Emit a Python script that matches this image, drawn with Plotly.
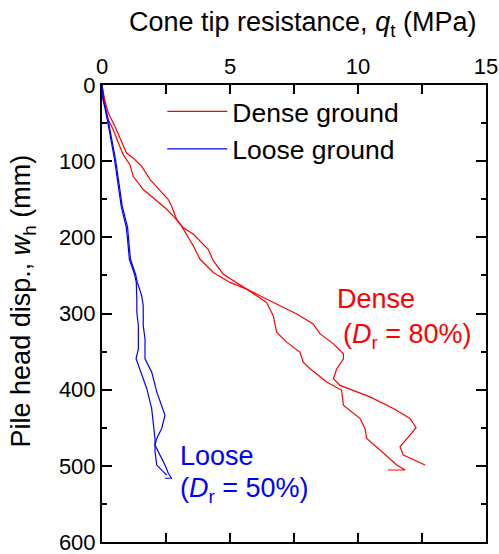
import plotly.graph_objects as go

# Dense ground (Dr = 80%), two tests: qt (MPa) vs pile head displacement wh (mm)
dense_a_qt = [0, 0.05, 0.25, 0.51, 0.70, 0.96, 1.22, 1.55, 1.88, 2.33, 2.59, 2.72, 2.92, 3.16, 3.57, 4.15, 4.35, 4.74, 5.65,
              6.17, 6.95, 7.61, 8.25, 8.52, 9.04, 9.43, 9.43, 9.17, 9.04, 9.30, 10.47, 11.38, 12.03, 12.27, 12.03, 11.64, 11.77, 12.62]
dense_a_wh = [0, 13, 37, 54.5, 69.7, 89.3, 95.8, 106.8, 124.2, 141.6, 150.3, 159.1, 176.5, 187, 196, 215.7, 231, 248.4, 268,
              276.7, 289.8, 300.7, 313.7, 326.8, 339.9, 353, 359.5, 372.5, 385.6, 394.4, 409.5, 424.8, 437.9, 450, 459.7, 474.9, 485.9, 499]
dense_b_qt = [0, 0.08, 0.18, 0.44, 0.64, 0.83, 1.09, 1.22, 1.61, 2.07, 2.46, 2.79, 3.09, 3.57, 3.83, 4.35, 5.00, 5.65,
              6.43, 6.69, 6.82, 7.21, 7.73, 7.86, 8.13, 8.78, 9.36, 9.43, 10.08, 10.27, 10.34, 10.86, 11.51, 11.84, 11.17]
dense_b_wh = [0, 15, 41.4, 58.8, 76.2, 91.5, 104.6, 119.9, 137.3, 150.3, 161.2, 172.2, 184.3, 211.4, 228.8, 246.1, 259.2, 268,
              285.4, 302.9, 324.6, 337.6, 350.7, 363.8, 372.5, 389.9, 400.9, 420.5, 437.9, 451, 464, 479.3, 499, 505.5, 505.5]

# Loose ground (Dr = 50%), two tests
loose_a_qt = [0, 0.05, 0.19, 0.40, 0.53, 0.66, 0.79, 0.92, 1.00, 1.05, 1.11, 1.31, 1.38, 1.55, 1.61, 1.61, 1.68, 1.68,
              1.94, 2.14, 2.39, 2.46, 2.33, 2.14, 2.07, 2.27, 2.46, 2.59, 2.72, 2.46]
loose_a_wh = [0, 19.6, 37, 71.9, 98, 128.5, 159.1, 176.5, 187, 206.9, 228.8, 248.4, 259.2, 276.7, 289.8, 315.9, 333.3, 359.5,
              376.9, 403, 424.8, 433.6, 451, 464, 472.8, 485.9, 499, 509.8, 516.3, 516.3]
loose_b_qt = [0, 0.04, 0.16, 0.36, 0.49, 0.62, 0.75, 0.87, 0.95, 1.01, 1.07, 1.27, 1.34, 1.36, 1.36, 1.42, 1.42, 1.33,
              1.55, 1.75, 1.94, 2.00, 2.07, 2.07, 2.14, 2.39, 2.53]
loose_b_wh = [0, 19.6, 37, 71.9, 98, 128.5, 159.1, 176.5, 187, 206.9, 228.8, 248.4, 259.2, 281, 298.4, 316, 346.4, 359.5,
              381.3, 398.7, 424.8, 446.5, 464, 481.4, 499, 507.6, 512]

x_tickvals = [0, 2.5, 5, 7.5, 10, 12.5, 15]
x_ticktext = ["0", "", "5", "", "10", "", "15"]
y_tickvals = [0, 100, 200, 300, 400, 500, 600]
y_ticktext = ["0", "100", "200", "300", "400", "500", "600"]

RED = "#FF0000"
BLUE = "#0000FF"
FONT = "Liberation Sans, Arial, sans-serif"

fig = go.Figure()
fig.add_trace(go.Scatter(x=dense_a_qt, y=dense_a_wh, mode="lines", line=dict(color=RED, width=1.2),
                         name="Dense ground", legendgroup="d", showlegend=True))
fig.add_trace(go.Scatter(x=dense_b_qt, y=dense_b_wh, mode="lines", line=dict(color=RED, width=1.2),
                         name="Dense ground", legendgroup="d", showlegend=False))
fig.add_trace(go.Scatter(x=loose_a_qt, y=loose_a_wh, mode="lines", line=dict(color=BLUE, width=1.2),
                         name="Loose ground", legendgroup="l", showlegend=True))
fig.add_trace(go.Scatter(x=loose_b_qt, y=loose_b_wh, mode="lines", line=dict(color=BLUE, width=1.2),
                         name="Loose ground", legendgroup="l", showlegend=False))

fig.update_layout(
    width=499, height=554,
    margin=dict(l=102, r=13, t=85, b=12, autoexpand=False),
    plot_bgcolor="white", paper_bgcolor="white",
    font=dict(family=FONT, size=22, color="black"),
    showlegend=True,
    legend=dict(x=0.157, y=0.994, xanchor="left", yanchor="top", bgcolor="rgba(0,0,0,0)",
                font=dict(size=26.5), itemwidth=60, tracegroupgap=0),
    xaxis=dict(side="top", range=[0, 15], tickvals=x_tickvals, ticktext=x_ticktext,
               ticks="inside", ticklen=9, tickwidth=1.5, tickcolor="black",
               showline=True, linecolor="black", linewidth=2, mirror="allticks",
               showgrid=False, zeroline=False, ticklabeloverflow="allow", automargin=False,
               tickfont=dict(size=22)),
    yaxis=dict(range=[600, 0], tickvals=y_tickvals, ticktext=y_ticktext,
               ticks="inside", ticklen=10, tickwidth=1.5, tickcolor="black",
               minor=dict(dtick=50, ticks="inside", ticklen=5, tickwidth=1.5, tickcolor="black"),
               showline=True, linecolor="black", linewidth=2, mirror="allticks",
               showgrid=False, zeroline=False, ticklabeloverflow="allow", automargin=False,
               tickfont=dict(size=22)),
)

# axis titles
fig.add_annotation(x=0.523, y=1.133, xref="paper", yref="paper",
                   text="Cone tip resistance, <i>q</i><sub>t</sub> (MPa)", showarrow=False,
                   xanchor="center", yanchor="middle", font=dict(size=27))
fig.add_annotation(x=-0.205, y=0.527, xref="paper", yref="paper", textangle=-90,
                   text="Pile head disp., <i>w</i><sub>h</sub> (mm)", showarrow=False,
                   xanchor="center", yanchor="middle", font=dict(size=27))

fig.add_annotation(x=9.1, y=281, xref="x", yref="y", text="Dense", showarrow=False,
                   xanchor="left", yanchor="middle", font=dict(color=RED, size=27))
fig.add_annotation(x=9.35, y=330, xref="x", yref="y", text="(<i>D</i><sub>r</sub> = 80%)", showarrow=False,
                   xanchor="left", yanchor="middle", font=dict(color=RED, size=27))
fig.add_annotation(x=2.97, y=487, xref="x", yref="y", text="Loose", showarrow=False,
                   xanchor="left", yanchor="middle", font=dict(color=BLUE, size=27))
fig.add_annotation(x=2.97, y=532, xref="x", yref="y", text="(<i>D</i><sub>r</sub> = 50%)", showarrow=False,
                   xanchor="left", yanchor="middle", font=dict(color=BLUE, size=27))

fig.write_html("out.html")
